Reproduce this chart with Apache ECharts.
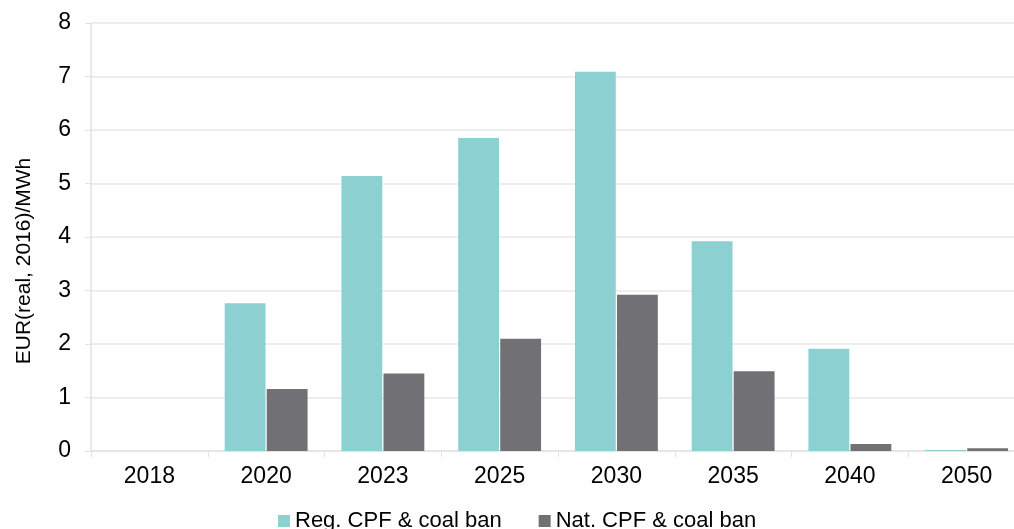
<!DOCTYPE html>
<html>
<head>
<meta charset="utf-8">
<script src="https://cdn.jsdelivr.net/npm/echarts@6/dist/echarts.min.js"></script>
<style>
  html, body { margin: 0; padding: 0; background: #fff; overflow: hidden; }
  /* the source chart is cut off on the right, so the canvas is a bit wider than the window */
  #chart { width: 1026px; height: 529px; }
</style>
</head>
<body>
<div id="chart"></div>
<script>
// values
var years = ["2018", "2020", "2023", "2025", "2030", "2035", "2040", "2050"];
var regCpf = [0, 2.76, 5.14, 5.85, 7.09, 3.92, 1.91, 0.02];
var natCpf = [0, 1.16, 1.45, 2.10, 2.92, 1.49, 0.13, 0.05];
var yTicks = [0, 1, 2, 3, 4, 5, 6, 7, 8];

var myChart = echarts.init(document.getElementById("chart"));
var font = "Liberation Sans, Arial, sans-serif";

var option = {
  animation: false,
  textStyle: { fontFamily: font },
  grid: {
    left: 91,
    top: 23,
    right: 1,
    bottom: 78,
    containLabel: false
  },
  legend: {
    left: 273,
    top: 505,
    icon: "rect",
    itemWidth: 12,
    itemHeight: 12,
    itemGap: 37,
    itemTextGap: 5,
    textStyle: { color: "#000", fontSize: 22, fontFamily: font },
    data: ["Reg. CPF & coal ban", "Nat. CPF & coal ban"]
  },
  xAxis: {
    type: "category",
    data: years,
    axisLine: { lineStyle: { color: "#dfe3e1", width: 1.5 } },
    axisTick: { show: true, length: 6, lineStyle: { color: "#dfe3e1" } },
    axisLabel: { color: "#000", fontSize: 23, margin: 14 }
  },
  yAxis: {
    type: "value",
    min: yTicks[0],
    max: yTicks[yTicks.length - 1],
    interval: 1,
    name: "EUR(real, 2016)/MWh",
    nameLocation: "middle",
    nameGap: 56,
    nameRotate: 90,
    nameTextStyle: { color: "#000", fontSize: 21, padding: [0, 48, 0, 0] },
    axisLine: { show: true, lineStyle: { color: "#dfe3e1", width: 1.5 } },
    axisTick: { show: true, length: 6, lineStyle: { color: "#dfe3e1" } },
    splitLine: { lineStyle: { color: "#e4e8e6", width: 1.5 } },
    axisLabel: { color: "#000", fontSize: 23, margin: 20 }
  },
  series: [
    {
      name: "Reg. CPF & coal ban",
      type: "bar",
      data: regCpf,
      barCategoryGap: "29%",
      barGap: "3%",
      itemStyle: { color: "#8dd0d1" }
    },
    {
      name: "Nat. CPF & coal ban",
      type: "bar",
      data: natCpf,
      itemStyle: { color: "#717175" }
    }
  ]
};

myChart.setOption(option);
window.addEventListener("resize", function () {
  myChart.resize();
});
</script>
</body>
</html>
